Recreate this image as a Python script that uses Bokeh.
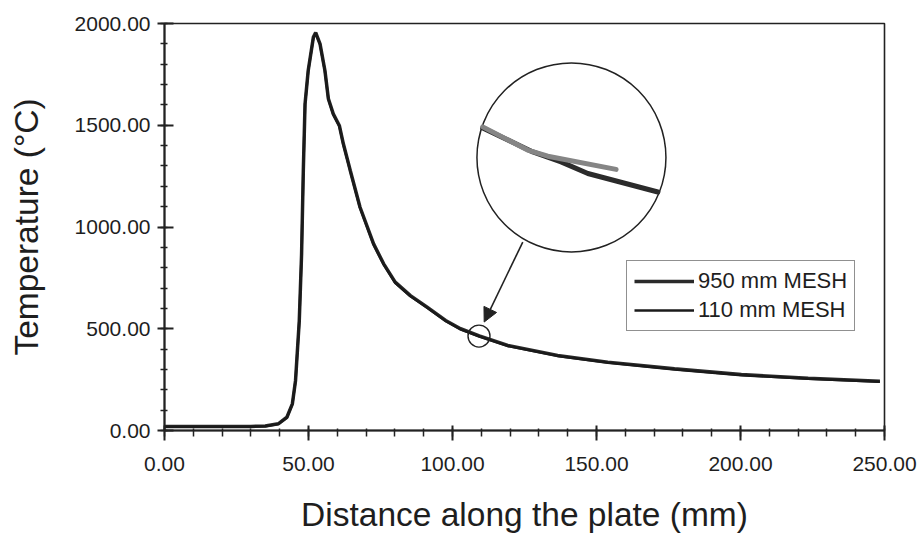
from bokeh.plotting import figure
from bokeh.models import (Range1d, NumeralTickFormatter, SingleIntervalTicker,
                          Legend, LegendItem, Arrow, NormalHead)
from bokeh.embed import file_html
from bokeh.resources import INLINE

# Main curves (distance mm, temperature °C)
dist_950 = [0, 10, 20, 30, 35, 39.5, 42.5, 44.4, 45.5, 46.8, 47.6, 48.2, 48.8, 49.9,
            51.7, 52.5, 54.0, 55.7, 56.9, 58.6, 60.7, 62.1, 64.5, 67.9, 72.6, 76.1,
            80.1, 85.4, 91.2, 97.6, 102.8, 109.3, 119.2, 136.5, 153.9, 177.1, 200.3,
            223.5, 248.4]
temp_950 = [20, 20, 20, 20, 22, 33, 65, 131, 246, 540, 868, 1278, 1605, 1769,
            1933, 1955, 1900, 1769, 1630, 1556, 1499, 1409, 1278, 1097, 917, 819,
            729, 663, 606, 541, 500, 465, 418, 369, 336, 303, 275,
            257, 242]
dist_110 = [0, 10, 20, 30, 35, 39.5, 42.5, 44.4, 45.5, 46.8, 47.6, 48.2, 48.8, 49.9,
            51.7, 52.5, 54.0, 55.7, 56.9, 58.6, 60.7, 62.1, 64.5, 67.9, 72.6, 76.1,
            80.1, 85.4, 91.2, 97.6, 102.8, 109.3, 119.2, 136.5, 153.9, 177.1, 200.3,
            223.5, 248.4]
temp_110 = [18, 18, 18, 19, 21, 32, 64, 130, 245, 538, 866, 1276, 1603, 1767,
            1931, 1952, 1898, 1766, 1628, 1553, 1496, 1406, 1275, 1094, 914, 816,
            726, 660, 603, 538, 497, 462, 415, 366, 333, 300, 272,
            254, 239]

# Magnified inset (drawn in chart coordinates)
inset_gray_x = [110.5, 126.1, 133.1, 156.8]
inset_gray_y = [1492, 1378, 1348, 1283]
inset_dark_x = [110.5, 127.9, 137.7, 147.0, 171.3]
inset_dark_y = [1486, 1369, 1320, 1263, 1172]
inset_center = (141.3, 1342)
spot_center = (109.2, 464)
arrow_from = (124.4, 926)
arrow_to = (111.0, 533)

FONT = "Liberation Sans"
TXT = "#1e1e1e"

p = figure(width=921, height=535, output_backend="svg", toolbar_location=None,
           x_range=Range1d(0, 250), y_range=Range1d(0, 2000),
           min_border_left=164, min_border_right=37, min_border_top=23,
           min_border_bottom=105)
p.background_fill_color = "white"
p.border_fill_color = "white"
p.xgrid.visible = False
p.ygrid.visible = False
p.outline_line_color = "#222222"
p.outline_line_width = 1.6

r950 = p.line(dist_950, temp_950, line_color="#2a2a2a", line_width=3.5)
r110 = p.line(dist_110, temp_110, line_color="#1a1a1a", line_width=2.5)

# inset
p.scatter([inset_center[0]], [inset_center[1]], marker="circle", size=189,
          fill_color="white", line_color="#222222", line_width=1.5)
p.line(inset_dark_x, inset_dark_y, line_color="#2b2b2b", line_width=5, line_cap="round")
p.line(inset_gray_x, inset_gray_y, line_color="#858585", line_width=5, line_cap="round")
p.scatter([spot_center[0]], [spot_center[1]], marker="circle", size=22,
          fill_color=None, line_color="#222222", line_width=1.4)
p.add_layout(Arrow(x_start=arrow_from[0], y_start=arrow_from[1],
                   x_end=arrow_to[0], y_end=arrow_to[1], line_width=1.6,
                   line_color="#222222",
                   end=NormalHead(size=14, fill_color="#222222", line_color="#222222")))

# axes
xa = p.xaxis[0]
xa.ticker = SingleIntervalTicker(interval=50, num_minor_ticks=5)
xa.formatter = NumeralTickFormatter(format="0.00")
xa.axis_label = "Distance along the plate (mm)"
ya = p.yaxis[0]
ya.ticker = SingleIntervalTicker(interval=500, num_minor_ticks=5)
ya.formatter = NumeralTickFormatter(format="0.00")
ya.axis_label = "Temperature (\u00b0C)"
for ax in (xa, ya):
    ax.axis_line_color = "#222222"
    ax.axis_line_width = 2
    ax.major_tick_line_color = "#222222"
    ax.major_tick_line_width = 2
    ax.minor_tick_line_color = "#222222"
    ax.minor_tick_line_width = 1.5
    ax.major_label_text_font = FONT
    ax.major_label_text_font_size = "21px"
    ax.major_label_text_color = TXT
    ax.axis_label_text_font = FONT
    ax.axis_label_text_font_size = "33.5px"
    ax.axis_label_text_font_style = "normal"
    ax.axis_label_text_color = TXT
xa.major_tick_out = 10
xa.major_tick_in = 5
xa.minor_tick_out = 6
xa.minor_tick_in = 2
xa.major_label_standoff = 16
xa.axis_label_standoff = 22
xa.axis_label_text_line_height = 0.8
ya.major_tick_out = 7
ya.major_tick_in = 9
ya.minor_tick_out = 4
ya.minor_tick_in = 3
ya.major_label_standoff = 7
ya.axis_label_standoff = 27

legend = Legend(items=[LegendItem(label="950 mm MESH", renderers=[r950]),
                       LegendItem(label="110 mm MESH", renderers=[r110])],
                location=(462, 99), orientation="vertical")
legend.label_text_font = FONT
legend.label_text_font_size = "22px"
legend.label_text_color = TXT
legend.glyph_width = 60
legend.glyph_height = 26
legend.label_height = 26
legend.label_standoff = 4
legend.spacing = 3
legend.padding = 7
legend.margin = 0
legend.border_line_color = "#222222"
legend.border_line_width = 1.5
legend.background_fill_alpha = 1.0
p.add_layout(legend)

open("out.html", "w").write(file_html(p, INLINE))
